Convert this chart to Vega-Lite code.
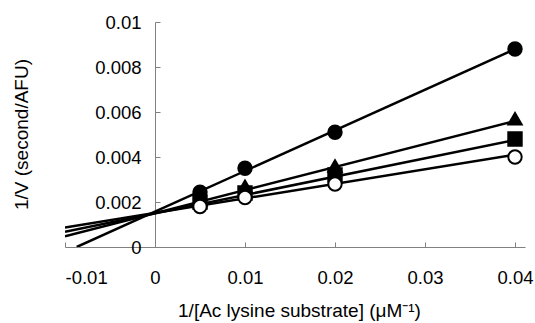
{
  "$schema": "https://vega.github.io/schema/vega-lite/v6.json",
  "width": 460,
  "height": 225,
  "autosize": "none",
  "padding": {"left": 65, "top": 22, "right": 10, "bottom": 76},
  "config": {"view": {"stroke": null}, "font": "Liberation Sans"},
  "datasets": {
    "points": [
      {"s": "A", "x": 0.005, "y": 0.00244},
      {"s": "A", "x": 0.01, "y": 0.0035},
      {"s": "A", "x": 0.02, "y": 0.0051},
      {"s": "A", "x": 0.04, "y": 0.0088},
      {"s": "B", "x": 0.005, "y": 0.0021},
      {"s": "B", "x": 0.01, "y": 0.0027},
      {"s": "B", "x": 0.02, "y": 0.0036},
      {"s": "B", "x": 0.04, "y": 0.0057},
      {"s": "C", "x": 0.005, "y": 0.002},
      {"s": "C", "x": 0.01, "y": 0.0024},
      {"s": "C", "x": 0.02, "y": 0.0032},
      {"s": "C", "x": 0.04, "y": 0.0048},
      {"s": "D", "x": 0.005, "y": 0.0018},
      {"s": "D", "x": 0.01, "y": 0.0022},
      {"s": "D", "x": 0.02, "y": 0.0028},
      {"s": "D", "x": 0.04, "y": 0.004}
    ],
    "lines": [
      {"s": "A", "x": -0.0087, "y": 0},
      {"s": "A", "x": 0.04, "y": 0.0088},
      {"s": "B", "x": -0.01, "y": 0.00048},
      {"s": "B", "x": 0.04, "y": 0.0056},
      {"s": "C", "x": -0.01, "y": 0.00068},
      {"s": "C", "x": 0.04, "y": 0.00476},
      {"s": "D", "x": -0.01, "y": 0.00087},
      {"s": "D", "x": 0.04, "y": 0.0041}
    ]
  },
  "encoding": {
    "x": {
      "field": "x", "type": "quantitative",
      "scale": {"domain": [-0.01, 0.0411111], "nice": false, "zero": false},
      "axis": {
        "values": [-0.01, 0, 0.01, 0.02, 0.03, 0.04],
        "labelExpr": "'' + datum.value",
        "grid": false,
        "domainColor": "#808080", "tickColor": "#808080",
        "tickSize": -5,
        "labelFontSize": 18.5, "labelColor": "black", "labelPadding": 26,
        "title": "1/[Ac lysine substrate] (μM⁻¹)",
        "titleFontSize": 19, "titleFontWeight": "normal", "titleColor": "black",
        "titleX": 234, "titleY": 69, "titleBaseline": "alphabetic"
      }
    },
    "y": {
      "field": "y", "type": "quantitative",
      "scale": {"domain": [0, 0.01], "nice": false},
      "axis": {
        "values": [0, 0.002, 0.004, 0.006, 0.008, 0.01],
        "labelExpr": "'' + datum.value",
        "grid": false,
        "offset": -90,
        "domainColor": "#808080", "tickColor": "#808080",
        "tickSize": -5,
        "labelFontSize": 18.5, "labelColor": "black", "labelPadding": 19,
        "title": "1/V (second/AFU)",
        "titleFontSize": 19, "titleFontWeight": "normal", "titleColor": "black",
        "titleX": -133.5, "titleY": 112, "titleAngle": -90, "titleBaseline": "middle", "titleAlign": "center"
      }
    }
  },
  "layer": [
    {
      "data": {"name": "lines"},
      "mark": {"type": "line", "color": "black", "strokeWidth": 2.5, "clip": true},
      "encoding": {"detail": {"field": "s"}}
    },
    {
      "data": {"name": "points"},
      "mark": {"type": "point", "filled": true, "stroke": "black", "strokeWidth": 2, "opacity": 1, "size": 180},
      "encoding": {
        "shape": {"field": "s", "type": "nominal", "scale": {"domain": ["A", "B", "C", "D"], "range": ["circle", "triangle-up", "square", "circle"]}, "legend": null},
        "fill": {"field": "s", "type": "nominal", "scale": {"domain": ["A", "B", "C", "D"], "range": ["black", "black", "black", "white"]}, "legend": null}
      }
    }
  ]
}
